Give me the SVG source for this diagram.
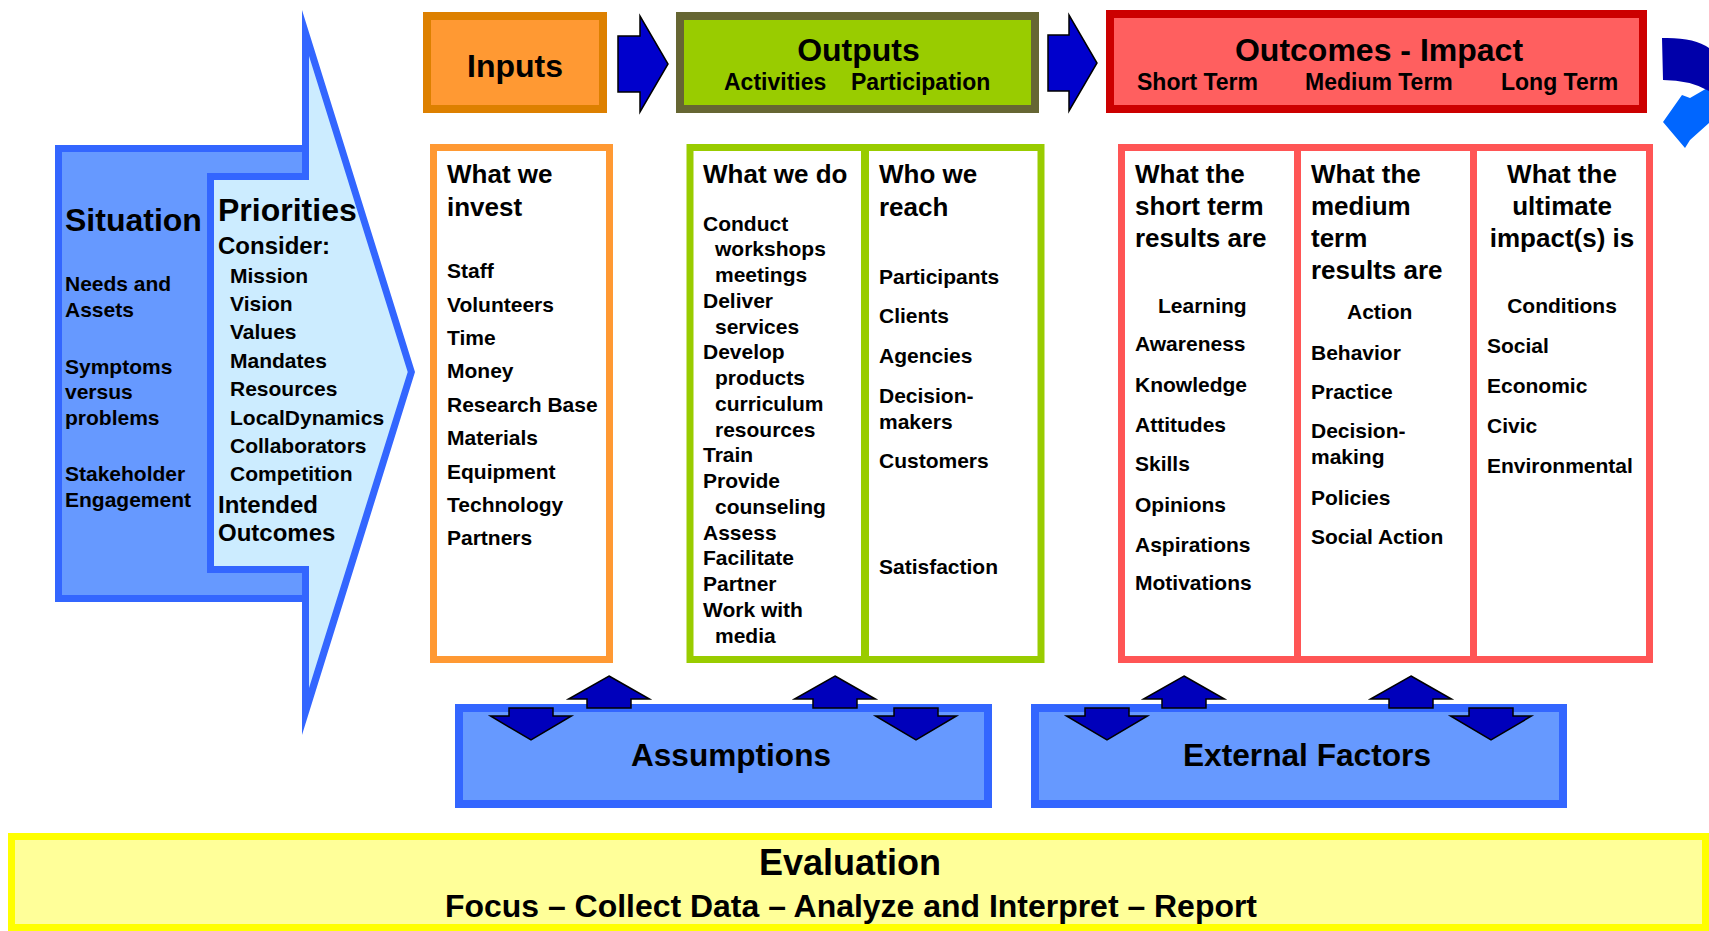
<svg xmlns="http://www.w3.org/2000/svg" width="1709" height="931" viewBox="0 0 1709 931">
<style>
.t{font-family:"Liberation Sans",Arial,Helvetica,sans-serif;font-weight:bold;fill:#000}
.f32{font-size:32px}.f36{font-size:36px}.f26{font-size:26px}.f24{font-size:24px}.f23{font-size:23px}.f21{font-size:21px}
.m{text-anchor:middle}
.arr{fill:#0000CC;stroke:#000;stroke-width:1.5;stroke-linejoin:miter}
.ud{fill:#0000BB;stroke:#000;stroke-width:1.5}
</style>
<rect width="1709" height="931" fill="#fff"/>

<g id="situation">
<rect x="58.5" y="148.5" width="252" height="450" fill="#6699FF" stroke="#3366FF" stroke-width="7"/>
<g transform="translate(0,-1.5)">
<text class="t f32" x="65" y="232">Situation</text>
<text class="t f21" x="65" y="292.5">Needs and</text>
<text class="t f21" x="65" y="318">Assets</text>
<text class="t f21" x="65" y="375">Symptoms</text>
<text class="t f21" x="65" y="400.5">versus</text>
<text class="t f21" x="65" y="426.5">problems</text>
<text class="t f21" x="65" y="482">Stakeholder</text>
<text class="t f21" x="65" y="508">Engagement</text>
</g>
</g>

<g id="priorities">
<polygon points="207,173 302,173 302,10 415,372 302,735 302,573 207,573" fill="#3366FF"/>
<polygon points="214,180 309,180 309,56 407.7,372 309,688 309,566 214,566" fill="#CCECFF"/>
<g transform="translate(0,-1.5)">
<text class="t f32" x="218" y="222">Priorities</text>
<text class="t f24" x="218" y="255">Consider:</text>
<text class="t f21" x="230" y="284">Mission</text>
<text class="t f21" x="230" y="312.5">Vision</text>
<text class="t f21" x="230" y="340.5">Values</text>
<text class="t f21" x="230" y="369">Mandates</text>
<text class="t f21" x="230" y="397.5">Resources</text>
<text class="t f21" x="230" y="426">LocalDynamics</text>
<text class="t f21" x="230" y="454">Collaborators</text>
<text class="t f21" x="230" y="482">Competition</text>
<text class="t f24" x="218" y="514">Intended</text>
<text class="t f24" x="218" y="542">Outcomes</text>
</g>
</g>

<g id="inputs-header">
<rect x="427" y="16" width="176" height="93" fill="#FF9933" stroke="#DD8000" stroke-width="8"/>
<text class="t f32 m" x="515" y="77">Inputs</text>
</g>

<g id="outputs-header">
<rect x="680" y="16" width="355" height="93" fill="#99CC00" stroke="#666633" stroke-width="8"/>
<text class="t f32 m" x="858.5" y="61">Outputs</text>
<text class="t f23" x="724" y="89.5">Activities</text>
<text class="t f23" x="851" y="89.5">Participation</text>
</g>

<g id="outcomes-header">
<rect x="1110" y="14" width="533" height="95" fill="#FF5F5F" stroke="#CC0000" stroke-width="8"/>
<text class="t f32 m" x="1379" y="61">Outcomes - Impact</text>
<text class="t f23" x="1137" y="89.5">Short Term</text>
<text class="t f23" x="1305" y="89.5">Medium Term</text>
<text class="t f23" x="1501" y="89.5">Long Term</text>
</g>

<g id="loop-arrow">
<polygon points="1663,122 1682,95 1690,98 1709,87 1709,123 1690,140 1685,148" fill="#0066FF"/>
<path d="M1662,38 Q1694,37 1709,48 L1709,91 Q1690,80 1663,80 Z" fill="#0000AA"/>
</g>

<g id="inputs-column">
<rect x="433.5" y="147.5" width="176" height="512" fill="#fff" stroke="#FF9933" stroke-width="7"/>
<g transform="translate(0,-1.5)">
<text class="t f26" x="447" y="184.5">What we</text>
<text class="t f26" x="447" y="217">invest</text>
<text class="t f21" x="447" y="279">Staff</text>
<text class="t f21" x="447" y="313">Volunteers</text>
<text class="t f21" x="447" y="346">Time</text>
<text class="t f21" x="447" y="379">Money</text>
<text class="t f21" x="447" y="413">Research Base</text>
<text class="t f21" x="447" y="446">Materials</text>
<text class="t f21" x="447" y="480">Equipment</text>
<text class="t f21" x="447" y="513">Technology</text>
<text class="t f21" x="447" y="546">Partners</text>
</g>
</g>

<g id="outputs-column">
<rect x="690" y="147.5" width="351" height="512" fill="#fff" stroke="#99CC00" stroke-width="7"/>
<line x1="865" y1="147" x2="865" y2="660" stroke="#99CC00" stroke-width="8"/>
<g transform="translate(0,-1.5)">
<text class="t f26" x="703" y="184.5">What we do</text>
<text class="t f21" x="703" y="232">Conduct</text>
<text class="t f21" x="715" y="257.75">workshops</text>
<text class="t f21" x="715" y="283.5">meetings</text>
<text class="t f21" x="703" y="309.25">Deliver</text>
<text class="t f21" x="715" y="335">services</text>
<text class="t f21" x="703" y="360.75">Develop</text>
<text class="t f21" x="715" y="386.5">products</text>
<text class="t f21" x="715" y="412.25">curriculum</text>
<text class="t f21" x="715" y="438">resources</text>
<text class="t f21" x="703" y="463.75">Train</text>
<text class="t f21" x="703" y="489.5">Provide</text>
<text class="t f21" x="715" y="515.25">counseling</text>
<text class="t f21" x="703" y="541">Assess</text>
<text class="t f21" x="703" y="566.75">Facilitate</text>
<text class="t f21" x="703" y="592.5">Partner</text>
<text class="t f21" x="703" y="618.25">Work with</text>
<text class="t f21" x="715" y="644">media</text>
<text class="t f26" x="879" y="184.5">Who we</text>
<text class="t f26" x="879" y="217">reach</text>
<text class="t f21" x="879" y="285">Participants</text>
<text class="t f21" x="879" y="324">Clients</text>
<text class="t f21" x="879" y="364.5">Agencies</text>
<text class="t f21" x="879" y="404">Decision-</text>
<text class="t f21" x="879" y="430">makers</text>
<text class="t f21" x="879" y="469.5">Customers</text>
<text class="t f21" x="879" y="575.5">Satisfaction</text>
</g>
</g>

<g id="outcomes-column">
<rect x="1121.5" y="147.5" width="528" height="512" fill="#fff" stroke="#FF5555" stroke-width="7"/>
<line x1="1297.5" y1="147" x2="1297.5" y2="660" stroke="#FF5555" stroke-width="7"/>
<line x1="1473.5" y1="147" x2="1473.5" y2="660" stroke="#FF5555" stroke-width="7"/>
<g transform="translate(0,-1.5)">
<text class="t f26" x="1135" y="184">What the</text>
<text class="t f26" x="1135" y="216">short term</text>
<text class="t f26" x="1135" y="248.5">results are</text>
<text class="t f21" x="1158" y="314">Learning</text>
<text class="t f21" x="1135" y="352.5">Awareness</text>
<text class="t f21" x="1135" y="393">Knowledge</text>
<text class="t f21" x="1135" y="433">Attitudes</text>
<text class="t f21" x="1135" y="472">Skills</text>
<text class="t f21" x="1135" y="513">Opinions</text>
<text class="t f21" x="1135" y="553">Aspirations</text>
<text class="t f21" x="1135" y="591">Motivations</text>
<text class="t f26" x="1311" y="184">What the</text>
<text class="t f26" x="1311" y="216">medium</text>
<text class="t f26" x="1311" y="248">term</text>
<text class="t f26" x="1311" y="280">results are</text>
<text class="t f21" x="1347" y="320.5">Action</text>
<text class="t f21" x="1311" y="361">Behavior</text>
<text class="t f21" x="1311" y="400">Practice</text>
<text class="t f21" x="1311" y="439">Decision-</text>
<text class="t f21" x="1311" y="465">making</text>
<text class="t f21" x="1311" y="506">Policies</text>
<text class="t f21" x="1311" y="545">Social Action</text>
<text class="t f26 m" x="1562" y="184">What the</text>
<text class="t f26 m" x="1562" y="216">ultimate</text>
<text class="t f26 m" x="1562" y="248">impact(s) is</text>
<text class="t f21 m" x="1562" y="314.5">Conditions</text>
<text class="t f21" x="1487" y="354.5">Social</text>
<text class="t f21" x="1487" y="394">Economic</text>
<text class="t f21" x="1487" y="434">Civic</text>
<text class="t f21" x="1487" y="474">Environmental</text>
</g>
</g>

<g id="assumptions">
<rect x="459" y="708" width="529" height="96" fill="#6699FF" stroke="#3366FF" stroke-width="8"/>
<text class="t f32 m" x="731" y="766" textLength="200" lengthAdjust="spacingAndGlyphs">Assumptions</text>
</g>

<g id="external-factors">
<rect x="1035" y="708" width="528" height="96" fill="#6699FF" stroke="#3366FF" stroke-width="8"/>
<text class="t f32 m" x="1307" y="766" textLength="248" lengthAdjust="spacingAndGlyphs">External Factors</text>
</g>

<g id="evaluation">
<rect x="11.5" y="836.5" width="1694" height="91" fill="#FFFF99" stroke="#FFFF00" stroke-width="7"/>
<text class="t f36 m" x="850" y="875">Evaluation</text>
<text class="t f32 m" x="851" y="917" textLength="812" lengthAdjust="spacingAndGlyphs">Focus – Collect Data – Analyze and Interpret – Report</text>
</g>

<g id="connectors">
<polygon class="arr" points="618,36 640,36 640,16 668,64 640,112 640,92 618,92"/>
<polygon class="arr" points="1048,35 1069,35 1069,15 1097,63 1069,111 1069,91 1048,91"/>
<polygon class="ud" points="509,708 553,708 553,716 571.5,716 531,740 490.5,716 509,716"/>
<polygon class="ud" points="609,676 649.5,699 631,699 631,708 587,708 587,699 568.5,699"/>
<polygon class="ud" points="835,676 875.5,699 857,699 857,708 813,708 813,699 794.5,699"/>
<polygon class="ud" points="894,708 938,708 938,716 956.5,716 916,740 875.5,716 894,716"/>
<polygon class="ud" points="1085,708 1129,708 1129,716 1147.5,716 1107,740 1066.5,716 1085,716"/>
<polygon class="ud" points="1184,676 1224.5,699 1206,699 1206,708 1162,708 1162,699 1143.5,699"/>
<polygon class="ud" points="1411,676 1451.5,699 1433,699 1433,708 1389,708 1389,699 1370.5,699"/>
<polygon class="ud" points="1469,708 1513,708 1513,716 1531.5,716 1491,740 1450.5,716 1469,716"/>
</g>
</svg>
